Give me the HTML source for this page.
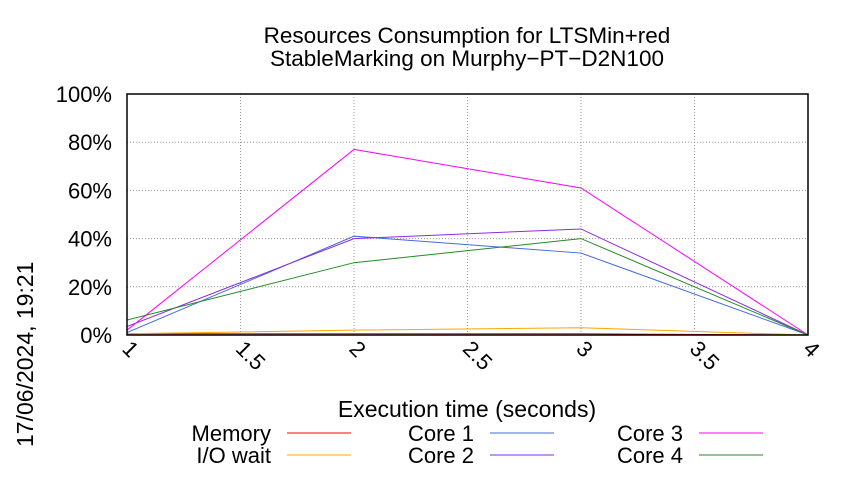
<!DOCTYPE html>
<html><head><meta charset="utf-8"><style>
body{margin:0;background:#fff;font-family:"Liberation Sans",sans-serif;}
</style></head><body>
<svg width="850" height="475" xmlns="http://www.w3.org/2000/svg" font-family="Liberation Sans, sans-serif">
<rect width="850" height="475" fill="#fff"/>
<text x="467" y="43" font-size="22.5" text-anchor="middle">Resources Consumption for LTSMin+red</text>
<text x="467" y="66" font-size="22.5" text-anchor="middle">StableMarking on Murphy−PT−D2N100</text>
<g id="grid"></g>
<g id="axes"></g>
<g id="series"></g>
<rect x="127" y="94" width="681" height="241" fill="none" stroke="#000" stroke-width="1.5"/>
<text x="467" y="417" font-size="23" text-anchor="middle">Execution time (seconds)</text>
<text transform="translate(33,447) rotate(-90)" font-size="23">17/06/2024, 19:21</text>
<g id="legend"></g>
</svg>
<script>
const xTicks=[1,1.5,2,2.5,3,3.5,4];
const xTickLabels=["1","1.5","2","2.5","3","3.5","4"];
const yTicks=[0,20,40,60,80,100];
const yTickLabels=["0%","20%","40%","60%","80%","100%"];
const times=[1,2,3,4];
const seriesNames=["Memory","I/O wait","Core 1","Core 2","Core 3","Core 4"];
const seriesColors=["#ff0000","#ffa500","#4169e1","#8a2be2","#ff00ff","#228b22"];
const memory=[0.5,0.5,0.5,0];
const ioWait=[0.5,2,3,0];
const core1=[1,41,34,0];
const core2=[3.5,40,44,0];
const core3=[2,77,61,0];
const core4=[6.2,30,40,0];
const allSeries=[memory,ioWait,core1,core2,core3,core4];
const NS="http://www.w3.org/2000/svg";
const X0=127,X1=808,Y0=335,Y1=94;
const xs=v=>X0+(v-1)/3*(X1-X0);
const ys=v=>Y0-v/100*(Y0-Y1);
function mk(tag,attrs,parent){const e=document.createElementNS(NS,tag);for(const k in attrs)e.setAttribute(k,attrs[k]);parent.appendChild(e);return e;}
const grid=document.getElementById('grid'),axes=document.getElementById('axes'),ser=document.getElementById('series'),leg=document.getElementById('legend');
xTicks.forEach((t,i)=>{
 const g=mk('line',{x1:xs(t),x2:xs(t),y1:Y0,y2:Y1,stroke:'#999','stroke-dasharray':'1,2','stroke-width':1},grid);
 
 
 const tx=mk('text',{x:xs(t)-6,y:Y0+15,'font-size':22,transform:`rotate(45 ${xs(t)-6} ${Y0+15})`},axes);
 tx.textContent=xTickLabels[i];
 
 
});
yTicks.forEach((t,i)=>{
 const g=mk('line',{x1:X0,x2:X1,y1:ys(t),y2:ys(t),stroke:'#999','stroke-dasharray':'1,2','stroke-width':1},grid);
 
 
 const tx=mk('text',{x:X0-15,y:ys(t)+8,'font-size':22,'text-anchor':'end'},axes);
 tx.textContent=yTickLabels[i];
 
 
});
allSeries.forEach((d,i)=>{
 const p=mk('polyline',{points:d.map((v,j)=>xs(times[j])+','+ys(v)).join(' '),fill:'none',stroke:seriesColors[i],'stroke-width':1},ser);
 
 
});
const legPos=[[271,441],[271,463],[474,441],[474,463],[683,441],[683,463]];
seriesNames.forEach((n,i)=>{
 const [lx,ly]=legPos[i];
 const t=mk('text',{x:lx,y:ly,'font-size':22,'text-anchor':'end'},leg);
 t.textContent=n;
 
 
 const l=mk('line',{x1:lx+16,x2:lx+80,y1:ly-8,y2:ly-8,stroke:seriesColors[i],'stroke-width':1},leg);
 
 
});
</script>
</body></html>
